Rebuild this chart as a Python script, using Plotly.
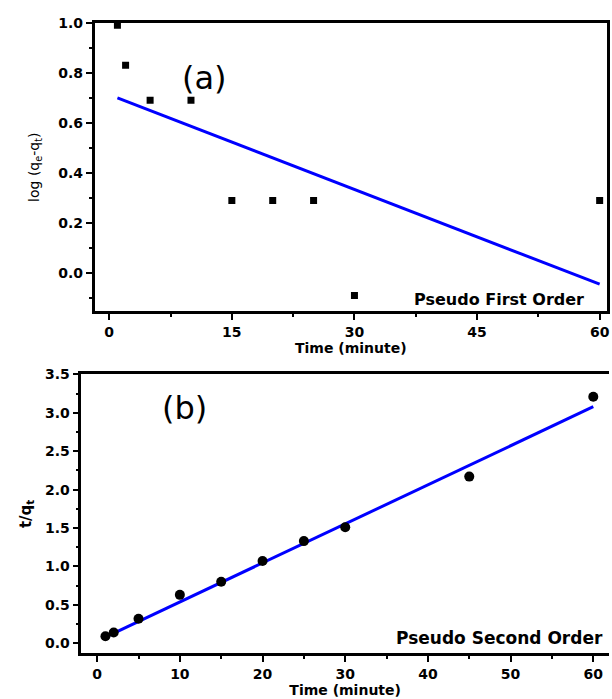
import plotly.graph_objects as go

W, H = 612, 699

# Panel (a): pseudo first order
time_a = [1, 2, 5, 10, 15, 20, 25, 30, 60]
log_qe_qt = [0.99, 0.83, 0.69, 0.69, 0.29, 0.29, 0.29, -0.09, 0.29]
fit_a_x = [1, 60]
fit_a_y = [0.70, -0.045]

# Panel (b): pseudo second order
time_b = [1, 2, 5, 10, 15, 20, 25, 30, 45, 60]
t_over_qt = [0.09, 0.14, 0.32, 0.63, 0.80, 1.07, 1.33, 1.51, 2.17, 3.21]
fit_b_x = [1, 60]
fit_b_y = [0.08, 3.08]

def px(x):
    return x / W

def py(y):
    return 1 - y / H

BLUE = "#0000FF"
TICKFONT_A = dict(family="DejaVu Sans", size=14, color="black", weight="bold")
TICKFONT_B = dict(family="DejaVu Sans", size=14, color="black", weight="bold")

fig = go.Figure()
fig.add_trace(go.Scatter(x=fit_a_x, y=fit_a_y, mode="lines",
                         line=dict(color=BLUE, width=3), xaxis="x", yaxis="y"))
fig.add_trace(go.Scatter(x=time_a, y=log_qe_qt, mode="markers",
                         marker=dict(symbol="square", size=7, color="black"),
                         xaxis="x", yaxis="y"))
fig.add_trace(go.Scatter(x=fit_b_x, y=fit_b_y, mode="lines",
                         line=dict(color=BLUE, width=3), xaxis="x2", yaxis="y2"))
fig.add_trace(go.Scatter(x=time_b, y=t_over_qt, mode="markers",
                         marker=dict(symbol="circle", size=10, color="black"),
                         xaxis="x2", yaxis="y2"))

common = dict(showgrid=False, zeroline=False, showline=True, linecolor="black",
              linewidth=2.5, ticks="outside", ticklen=6, tickwidth=2,
              tickcolor="black")

fig.update_layout(
    width=W, height=H,
    margin=dict(l=0, r=0, t=0, b=0),
    paper_bgcolor="white", plot_bgcolor="white",
    showlegend=False,
    xaxis=dict(**common, domain=[px(95), px(610)], range=[-1.8, 60.9],
               tickmode="array", tickvals=[0, 15, 30, 45, 60],
               minor=dict(ticks="outside", ticklen=3, tickwidth=2, dtick=7.5,
                          tick0=0, tickcolor="black"),
               tickfont=TICKFONT_A, mirror=True, anchor="y",
               title=dict(text="Time (minute)", standoff=1,
                          font=dict(family="DejaVu Sans", size=14,
                                    color="black", weight="bold"))),
    yaxis=dict(**common, domain=[py(307), py(15)], range=[-0.154, 1.0],
               tickmode="array", tickvals=[0.0, 0.2, 0.4, 0.6, 0.8, 1.0],
               ticktext=["0.0", "0.2", "0.4", "0.6", "0.8", "1.0"],
               minor=dict(ticks="outside", ticklen=3, tickwidth=2, dtick=0.1,
                          tick0=0, tickcolor="black"),
               tickfont=TICKFONT_A, mirror=True, anchor="x",
               title=dict(text="log (q<sub>e</sub>-q<sub>t</sub>)", standoff=16,
                          font=dict(family="DejaVu Sans", size=14,
                                    color="black"))),
    xaxis2=dict(**common, domain=[px(81.7), 1.0], range=[-1.92, 61.9],
                tickmode="array", tickvals=[0, 10, 20, 30, 40, 50, 60],
                minor=dict(ticks="outside", ticklen=3, tickwidth=2, dtick=5,
                           tick0=0, tickcolor="black"),
                tickfont=TICKFONT_B, mirror=True, anchor="y2",
                title=dict(text="Time (minute)", standoff=3,
                           font=dict(family="DejaVu Sans", size=14,
                                     color="black", weight="bold"))),
    yaxis2=dict(**common, domain=[py(652.7), py(370.7)], range=[-0.13, 3.5],
                tickmode="array", tickvals=[0, 0.5, 1.0, 1.5, 2.0, 2.5, 3.0, 3.5],
                ticktext=["0.0", "0.5", "1.0", "1.5", "2.0", "2.5", "3.0", "3.5"],
                minor=dict(ticks="outside", ticklen=3, tickwidth=2, dtick=0.25,
                           tick0=0, tickcolor="black"),
                tickfont=TICKFONT_B, mirror=False, anchor="x2",
                title=dict(text="t/q<sub>t</sub>", standoff=10,
                           font=dict(family="DejaVu Sans", size=15,
                                     color="black", weight="bold"))),
)

fig.add_annotation(text="(a)", x=px(181), y=py(50), xref="paper", yref="paper",
                   showarrow=False, font=dict(family="DejaVu Sans", size=32, color="black"))
fig.add_annotation(text="(b)", x=px(161), y=py(405), xref="paper", yref="paper",
                   showarrow=False, font=dict(family="DejaVu Sans", size=32, color="black"))
fig.add_annotation(text="Pseudo First Order", x=px(589), y=py(295),
                   xref="paper", yref="paper", xanchor="right", yanchor="middle",
                   showarrow=False,
                   font=dict(family="DejaVu Sans", size=16, color="black", weight="bold"))
fig.add_annotation(text="Pseudo Second Order", x=px(608), y=py(637.5),
                   xref="paper", yref="paper", xanchor="right", yanchor="middle",
                   showarrow=False,
                   font=dict(family="DejaVu Sans", size=17, color="black", weight="bold"))

fig.write_html("out.html")
